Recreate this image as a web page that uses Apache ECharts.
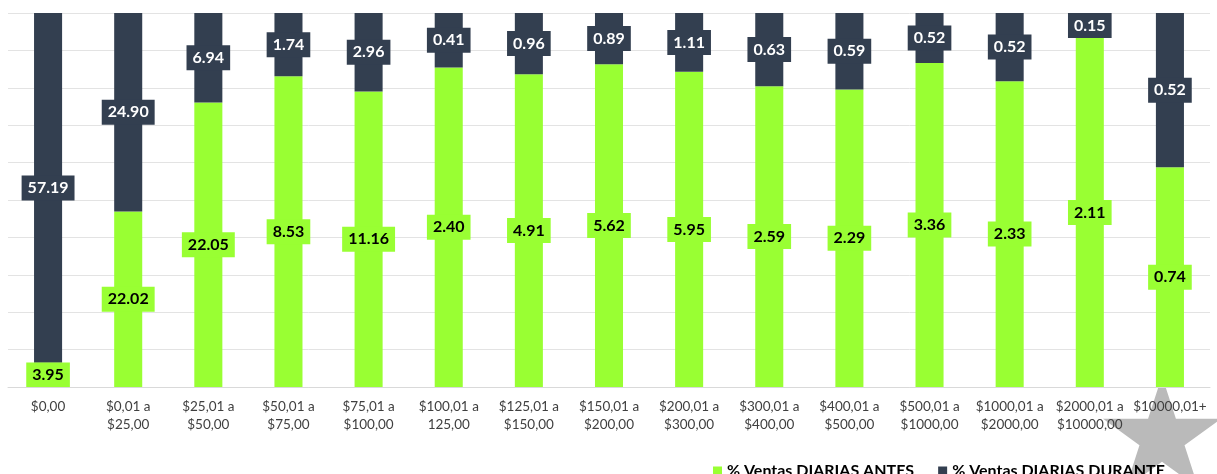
<!DOCTYPE html>
<html>
<head>
<meta charset="utf-8">
<script src="https://cdn.jsdelivr.net/npm/echarts@6/dist/echarts.min.js"></script>
<style>
  html, body { margin: 0; padding: 0; background: #fff; }
  #chart { width: 1217px; height: 474px; }
</style>
</head>
<body>
<div id="chart"></div>
<script>
// rangos de venta
var categories = [
  "$0,00", "$0,01 a\n$25,00", "$25,01 a\n$50,00", "$50,01 a\n$75,00",
  "$75,01 a\n$100,00", "$100,01 a\n125,00", "$125,01 a\n$150,00",
  "$150,01 a\n$200,00", "$200,01 a\n$300,00", "$300,01 a\n$400,00",
  "$400,01 a\n$500,00", "$500,01 a\n$1000,00", "$1000,01 a\n$2000,00",
  "$2000,01 a\n$10000,00", "$10000,01+"
];
var antes = [3.95, 22.02, 22.05, 8.53, 11.16, 2.40, 4.91, 5.62, 5.95, 2.59, 2.29, 3.36, 2.33, 2.11, 0.74];
var durante = [57.19, 24.90, 6.94, 1.74, 2.96, 0.41, 0.96, 0.89, 1.11, 0.63, 0.59, 0.52, 0.52, 0.15, 0.52];

var GREEN = "#99ff33";
var DARK = "#333f50";
var FONT = "Lato, 'Open Sans', sans-serif";

// apilado al 100%: cada columna se normaliza, la etiqueta muestra el valor real
function pct(arr, i) {
  return (arr[i] / (antes[i] + durante[i])) * 100;
}
var antesPct = antes.map(function (v, i) { return { value: pct(antes, i), raw: v }; });
var durantePct = durante.map(function (v, i) { return { value: pct(durante, i), raw: v }; });

// estrella gris decorativa (abajo a la derecha)
function starPoints(cx, cy, r) {
  var pts = [];
  for (var k = 0; k < 10; k++) {
    var rr = k % 2 === 0 ? r : r * 0.382;
    var a = -Math.PI / 2 + k * Math.PI / 5;
    pts.push([cx + rr * Math.cos(a), cy + rr * Math.sin(a)]);
  }
  return pts;
}

function labelStyle(bg, color) {
  return {
    show: true,
    position: "inside",
    formatter: function (p) { return p.data.raw.toFixed(2); },
    backgroundColor: bg,
    color: color,
    fontFamily: FONT,
    fontWeight: "bold",
    fontSize: 16,
    padding: [5, 6, 4, 6]
  };
}

var myChart = echarts.init(document.getElementById("chart"));
var option = {
  animation: false,
  color: [GREEN, DARK],
  grid: { left: 8, right: 7, top: 13, bottom: 87 },
  legend: {
    left: 708,
    top: 458,
    itemWidth: 9,
    itemHeight: 9,
    itemGap: 24,
    icon: "rect",
    textStyle: { fontFamily: FONT, fontWeight: "bold", fontSize: 16, color: "#000" },
    data: ["% Ventas DIARIAS ANTES", "% Ventas DIARIAS DURANTE"]
  },
  xAxis: {
    type: "category",
    data: categories,
    z: 5,
    axisTick: { show: false },
    axisLine: { lineStyle: { color: "#d9d9d9" } },
    axisLabel: {
      interval: 0,
      margin: 11,
      color: "#404040",
      fontFamily: FONT,
      fontSize: 13.5,
      lineHeight: 18
    }
  },
  yAxis: {
    type: "value",
    min: 0,
    max: 100,
    interval: 10,
    axisLabel: { show: false },
    axisLine: { show: false },
    axisTick: { show: false },
    splitLine: { lineStyle: { color: "#e3e3e3" } }
  },
  series: [
    {
      name: "% Ventas DIARIAS ANTES",
      type: "bar",
      stack: "total",
      barWidth: "35%",
      data: antesPct,
      label: labelStyle(GREEN, "#000")
    },
    {
      name: "% Ventas DIARIAS DURANTE",
      type: "bar",
      stack: "total",
      barWidth: "35%",
      data: durantePct,
      label: labelStyle(DARK, "#fff")
    }
  ],
  graphic: [
    {
      type: "polygon",
      z: -1,
      shape: { points: starPoints(1162, 438, 62) },
      style: { fill: "#bababa" }
    }
  ]
};
myChart.setOption(option);
</script>
</body>
</html>
